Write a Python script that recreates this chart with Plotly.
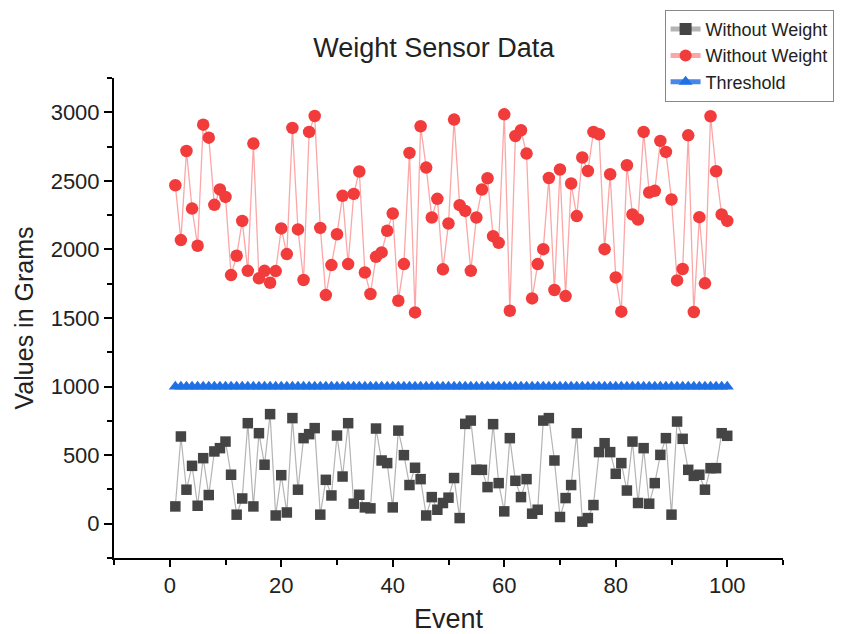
import plotly.graph_objects as go

events = list(range(1, 101))

with_weight = [
    2468, 2068, 2718, 2298, 2027, 2910, 2815, 2325, 2437, 2383,
    1813, 1954, 2208, 1844, 2772, 1789, 1844, 1757, 1842, 2153,
    1966, 2886, 2146, 1777, 2857, 2973, 2157, 1667, 1886, 2111,
    2391, 1893, 2405, 2568, 1832, 1675, 1946, 1978, 2136, 2262,
    1626, 1893, 2704, 1541, 2898, 2597, 2233, 2369, 1855, 2189,
    2947, 2323, 2281, 1844, 2233, 2437, 2519, 2097, 2048, 2985,
    1553, 2827, 2869, 2699, 1643, 1893, 2002, 2521, 1704, 2583,
    1660, 2481, 2243, 2670, 2572, 2857, 2840, 2002, 2548, 1796,
    1546, 2614, 2255, 2218, 2857, 2415, 2427, 2791, 2711, 2364,
    1774, 1857, 2832, 1544, 2235, 1753, 2971, 2570, 2255, 2208,
]

without_weight = [
    126, 636, 248, 422, 131, 478, 209, 527, 551, 599,
    357, 66, 184, 733, 126, 660, 430, 799, 60, 354,
    82, 770, 248, 624, 653, 697, 66, 320, 206, 643,
    344, 733, 146, 211, 119, 112, 694, 461, 442, 119,
    679, 500, 282, 408, 325, 60, 194, 102, 151, 190,
    333, 41, 728, 752, 393, 393, 267, 726, 296, 90,
    624, 313, 194, 325, 73, 102, 752, 770, 461, 49,
    187, 282, 660, 15, 41, 136, 522, 587, 522, 364,
    442, 242, 599, 151, 551, 146, 296, 502, 624, 66,
    745, 619, 393, 349, 357, 248, 405, 405, 660, 641,
]

threshold = [1000] * 100

series_names = ["Without Weight", "Without Weight", "Threshold"]

FONT = "Liberation Sans, Arial, sans-serif"

fig = go.Figure()
fig.add_trace(go.Scatter(
    x=events, y=without_weight, name=series_names[0], mode="lines+markers",
    line=dict(color="#b4b4b4", width=1.2),
    marker=dict(symbol="square", size=10.5, color="#444444"),
))
fig.add_trace(go.Scatter(
    x=events, y=with_weight, name=series_names[1], mode="lines+markers",
    line=dict(color="rgba(250,120,120,0.65)", width=1.3),
    marker=dict(symbol="circle", size=12.5, color="#f23b3b"),
))
fig.add_trace(go.Scatter(
    x=events, y=threshold, name=series_names[2], mode="lines+markers",
    line=dict(color="#4a86e8", width=1),
    marker=dict(symbol="triangle-up", size=11.5, color="#1f6fe5"),
))

fig.update_layout(
    width=868, height=634,
    margin=dict(l=114, r=85, t=78, b=76, autoexpand=False),
    paper_bgcolor="white", plot_bgcolor="white",
    font=dict(family=FONT, color="#222222"),
    title=dict(text="Weight Sensor Data", x=0.478, xref="paper", xanchor="center",
               y=0.925, yref="container", yanchor="middle",
               font=dict(size=27, family=FONT, color="#222222")),
    xaxis=dict(
        range=[-10, 110], tick0=0, dtick=20, showgrid=False, zeroline=False,
        automargin=False,
        showline=True, linecolor="black", linewidth=2,
        ticks="outside", ticklen=7, tickwidth=2, tickcolor="black",
        tickfont=dict(size=22, family=FONT, color="#222222"),
        minor=dict(dtick=10, ticks="outside", ticklen=5, tickwidth=1.5, tickcolor="black", showgrid=False),
        title=dict(text="Event", font=dict(size=27, family=FONT, color="#222222"), standoff=14),
    ),
    yaxis=dict(
        range=[-250, 3250], tick0=0, dtick=500, showgrid=False, zeroline=False,
        automargin=False,
        showline=True, linecolor="black", linewidth=2,
        ticks="outside", ticklen=8, tickwidth=2, tickcolor="black",
        tickfont=dict(size=22, family=FONT, color="#222222"),
        minor=dict(dtick=250, tick0=0, ticks="outside", ticklen=5, tickwidth=1.5, tickcolor="black", showgrid=False),
        title=dict(text="Values in Grams", font=dict(size=25, family=FONT, color="#222222"), standoff=10),
    ),
    legend=dict(
        x=0.823, y=1.142, xanchor="left", yanchor="top",
        bgcolor="white", bordercolor="#888888", borderwidth=1,
        font=dict(size=18, family=FONT, color="#222222"),
        tracegroupgap=0, itemsizing="constant",
    ),
    showlegend=True,
)

fig.write_html("out.html")
